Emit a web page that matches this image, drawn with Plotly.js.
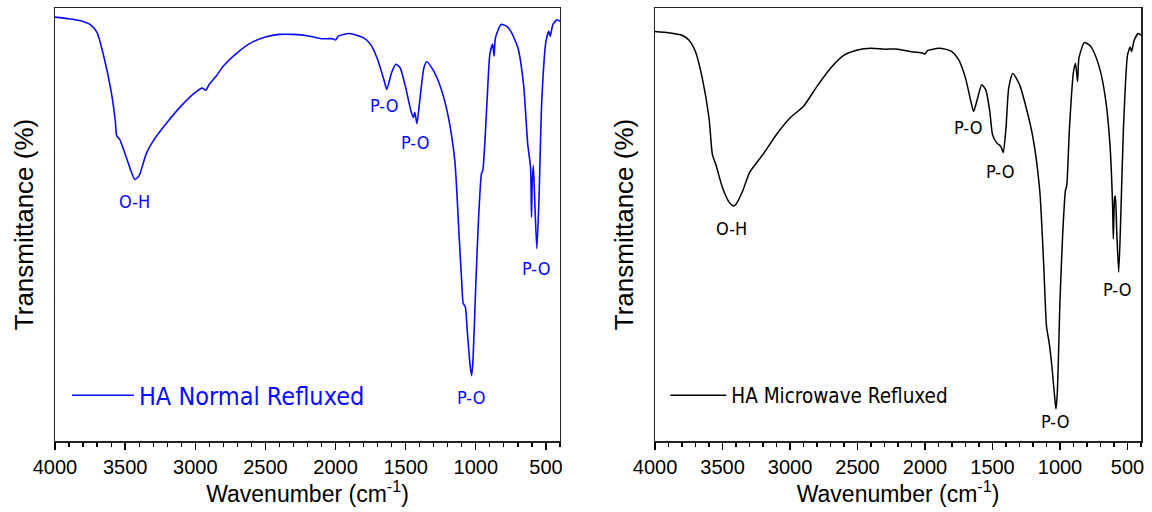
<!DOCTYPE html>
<html>
<head>
<meta charset="utf-8">
<script src="https://cdn.plot.ly/plotly-3.0.1.min.js"></script>
<style>html,body{margin:0;padding:0;background:#fff;}#chart{width:1152px;height:512px;}</style>
</head>
<body>
<div id="chart"></div>
<script>
// ---- Data: HA Normal Refluxed (left panel) ----
const wnNormal = [4000,3900,3800,3750,3700,3650,3600,3570,3560,3540,3500,3460,3430,3400,3350,3300,3200,3100,3000,2950,2925,2900,2850,2800,2700,2600,2500,2400,2300,2200,2100,2020,2000,1980,1900,1800,1750,1700,1650,1635,1600,1570,1540,1500,1460,1445,1435,1420,1400,1370,1350,1300,1250,1200,1150,1120,1100,1090,1075,1060,1040,1030,1020,1000,980,960,950,920,900,880,870,860,820,780,750,700,660,630,610,603,598,590,580,565,550,530,500,480,470,450,420,400];
const tNormal = [97.9,97.5,96.9,96.2,94.3,88.5,80.8,73.9,70.5,69.7,66.3,62.5,60.4,61.3,66.3,69.3,73.6,77.4,80.5,81.5,81.0,82.4,84.3,86.6,89.7,92.0,93.3,93.9,93.9,93.6,92.9,92.9,92.6,93.5,94.1,93.1,91.6,88.1,82.8,81.2,85.1,87.0,86.2,81.6,75.9,74.7,75.9,73.3,78.5,86.2,87.6,85.4,81.6,75.5,64.8,47.9,36.4,31.8,31.0,24.9,17.2,15.1,18.8,36.4,51.7,61.7,62.5,78.5,89.3,91.7,88.9,93.1,96.2,95.8,94.6,90.8,82.4,68.6,63.2,51.7,59.4,63.6,55.6,44.4,55.6,78.5,92.3,94.6,93.5,96.2,97.3,96.9];

// ---- Data: HA Microwave Refluxed (right panel) ----
const wnMicro = [4000,3900,3800,3750,3700,3650,3600,3575,3550,3500,3450,3420,3400,3350,3300,3200,3100,3000,2900,2800,2700,2600,2500,2400,2300,2200,2100,2020,2000,1980,1950,1900,1850,1800,1750,1700,1660,1640,1610,1580,1550,1520,1500,1470,1440,1430,1420,1400,1380,1350,1300,1250,1200,1150,1120,1100,1080,1060,1040,1030,1020,1000,980,960,950,930,900,885,870,860,820,780,750,700,660,630,610,605,595,590,580,565,550,530,500,480,470,450,420,400];
const tMicro = [94.6,94.3,93.7,92.6,89.9,83.8,74.6,66.2,63.9,58.5,55.1,54.3,54.7,57.8,62.0,66.2,70.8,74.6,77.3,81.9,86.1,89.1,90.3,90.7,90.5,90.5,89.9,89.6,89.4,90.2,90.4,90.7,90.5,89.9,88.0,83.8,78.4,76.1,79.2,82.3,81.1,76.1,70.8,68.9,68.1,67.4,66.6,72.3,81.5,84.9,82.3,76.9,70.0,57.8,40.2,26.5,22.6,17.2,10.3,7.4,11.1,32.5,47.8,57.8,59.0,72.3,85.3,87.2,83.0,88.4,92.0,91.4,89.9,85.3,78.4,68.5,53.9,46.7,56.3,56.6,48.6,39.0,51.6,72.3,89.1,91.0,89.9,92.6,94.1,93.7];

// ---- Peak labels ----
const labelText = ["O-H","P-O","P-O","P-O","P-O"];
const labelWnNormal = [3431,1657,1432,1035,571];
const labelTNormal = [55.2,77.4,69.0,10.0,39.8];
const labelWnMicro = [3436,1683,1444,1038,577];
const labelTMicro = [49.0,72.5,62.2,4.4,35.0];

const seriesNames = ["HA Normal Refluxed","HA Microwave Refluxed"];
const xTitle = "Wavenumber (cm<sup>-1</sup>)";
const yTitle = "Transmittance (%)";

const BLUE = "#0a0aff";
const annFont = "DejaVu Sans Condensed, DejaVu Sans, sans-serif";
const axFont = "Liberation Sans, Arial, sans-serif";

const traces = [
  {x: wnNormal, y: tNormal, type: "scatter", mode: "lines", name: seriesNames[0],
   line: {color: BLUE, width: 1.6, shape: "spline", smoothing: 0.6}, xaxis: "x", yaxis: "y", legend: "legend"},
  {x: wnMicro, y: tMicro, type: "scatter", mode: "lines", name: seriesNames[1],
   line: {color: "#000", width: 1.5, shape: "spline", smoothing: 0.6}, xaxis: "x2", yaxis: "y2", legend: "legend2"}
];

function xAxis(domain, anchor) {
  return {
    domain: domain, anchor: anchor, range: [4000, 400],
    tickmode: "linear", tick0: 500, dtick: 500,
    ticks: "outside", ticklen: 7, tickwidth: 1.3, tickcolor: "#000",
    minor: {dtick: 100, tick0: 0, ticks: "outside", ticklen: 4, tickwidth: 1.2, tickcolor: "#000", showgrid: false},
    showline: true, mirror: true, linewidth: 1.5, linecolor: "#222",
    showgrid: false, zeroline: false,
    tickfont: {family: axFont, size: 20, color: "#000"},
    title: {text: xTitle, font: {family: axFont, size: 23, color: "#000"}, standoff: 6}
  };
}
function yAxis(anchor) {
  return {
    domain: [0, 1], anchor: anchor, range: [0, 100],
    showticklabels: false, ticks: "",
    showline: true, mirror: true, linewidth: 1.5, linecolor: "#222",
    showgrid: false, zeroline: false,
    title: {text: yTitle, font: {family: axFont, size: 26, color: "#000"}, standoff: 12}
  };
}

const annotations = [];
labelText.forEach((t, i) => {
  annotations.push({x: labelWnNormal[i], y: labelTNormal[i], xref: "x", yref: "y", text: t,
    showarrow: false, font: {family: annFont, size: 18, color: BLUE}});
  annotations.push({x: labelWnMicro[i], y: labelTMicro[i], xref: "x2", yref: "y2", text: t,
    showarrow: false, font: {family: annFont, size: 18, color: "#000"}});
});

const layout = {
  width: 1152, height: 512,
  margin: {l: 55, r: 11, t: 8, b: 71},
  paper_bgcolor: "#fff", plot_bgcolor: "#fff",
  showlegend: true,
  xaxis: xAxis([0, 0.465], "y"),
  yaxis: yAxis("x"),
  xaxis2: xAxis([0.5525, 1], "y2"),
  yaxis2: yAxis("x2"),
  legend: {x: 0.011, y: 0.105, xanchor: "left", yanchor: "middle", bgcolor: "rgba(0,0,0,0)",
    borderwidth: 0, itemwidth: 62, font: {family: annFont, size: 25, color: BLUE}},
  legend2: {x: 0.562, y: 0.105, xanchor: "left", yanchor: "middle", bgcolor: "rgba(0,0,0,0)",
    borderwidth: 0, itemwidth: 56, font: {family: annFont, size: 20.5, color: "#000"}},
  annotations: annotations
};

Plotly.newPlot("chart", traces, layout, {displayModeBar: false, staticPlot: true});
</script>
</body>
</html>
